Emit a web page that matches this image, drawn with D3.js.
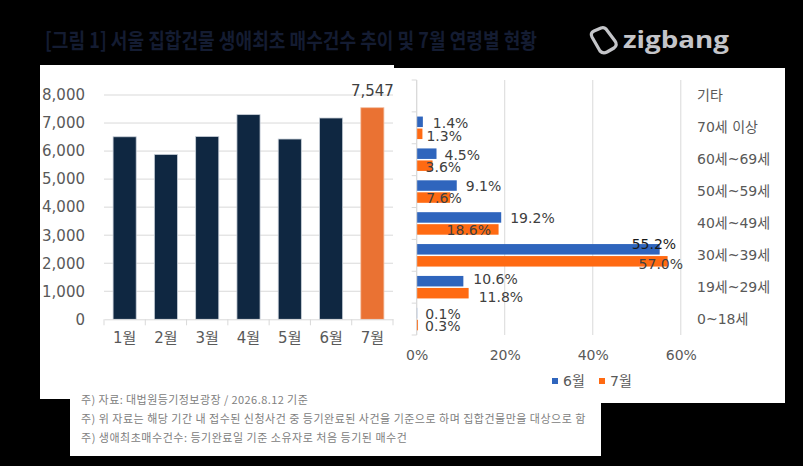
<!DOCTYPE html>
<html><head><meta charset="utf-8">
<script src="https://cdn.jsdelivr.net/npm/d3@7"></script>
<style>
html,body{margin:0;padding:0;background:#000;}
svg{display:block;}
</style></head>
<body>
<svg id="c" width="803" height="466"></svg>
<script>
// ---------- data ----------
const months = ["1월","2월","3월","4월","5월","6월","7월"];
const monthlyCounts = [6510, 5880, 6520, 7300, 6430, 7180, 7547];
const yTicksLeft = [0,1000,2000,3000,4000,5000,6000,7000,8000];

const ageGroups = ["기타","70세 이상","60세~69세","50세~59세","40세~49세","30세~39세","19세~29세","0~18세"];
const seriesNames = ["6월","7월"];
const juneShare = [null, 1.4, 4.5, 9.1, 19.2, 55.2, 10.6, 0.1];
const julyShare = [null, 1.3, 3.6, 7.6, 18.6, 57.0, 11.8, 0.3];
const xTicksRight = [0,20,40,60];

const titleText = "[그림 1] 서울 집합건물 생애최초 매수건수 추이 및 7월 연령별 현황";
const notes = [
  "주) 자료: 대법원등기정보광장 / 2026.8.12 기준",
  "주) 위 자료는 해당 기간 내 접수된 신청사건 중 등기완료된 사건을 기준으로 하며 집합건물만을 대상으로 함",
  "주) 생애최초매수건수: 등기완료일 기준 소유자로 처음 등기된 매수건"
];

// label nudges (pixels) for the right chart data labels
const nudgeX6 = [0, 2, 0, 1, 1, -36, 2, 0];
const nudgeY6 = [0, 0, 0, 0, 0, -6, -3, 0];
const nudgeX7 = [0, -4, -15, -32, -60, -37, 2, -1];
const nudgeY7 = [0, 1, 0, 0, 0, 2, 3, 0];

// ---------- drawing ----------
const svg = d3.select("#c");
const FONT = "'DejaVu Sans','Noto Sans CJK KR',sans-serif";
const CJK = "'Noto Sans CJK KR','Noto Sans',sans-serif";
const GRID = "#d9d9d9", TXT = "#595959";

svg.append("rect").attr("width",803).attr("height",466).attr("fill","#000");
// white panels
svg.append("rect").attr("x",40).attr("y",65).attr("width",354).attr("height",334).attr("fill","#fff");
svg.append("rect").attr("x",394).attr("y",68).attr("width",391).attr("height",335).attr("fill","#fff");
svg.append("rect").attr("x",70).attr("y",390).attr("width",531).attr("height",66).attr("fill","#fff");

// title
svg.append("text").attr("x",45).attr("y",48).text(titleText)
  .attr("font-family",CJK).attr("font-weight",700).attr("font-size",21)
  .attr("fill","#141c32").attr("textLength",492).attr("lengthAdjust","spacingAndGlyphs");

// logo
const logo = svg.append("g");
logo.append("path")
  .attr("d","M592,37 Q590,33 594,31 L601,28 Q604,27 606,29 L615,41 Q618,45 614,48 L607,52 Q603,54 600,51 Z")
  .attr("fill","none").attr("stroke","#c4c5c9").attr("stroke-width",3.2).attr("stroke-linejoin","round");
logo.append("text").attr("x",623).attr("y",48).text("zigbang")
  .attr("font-family","'Open Sans','DejaVu Sans',sans-serif").attr("font-weight",700).attr("font-size",24)
  .attr("fill","#c4c5c9").attr("textLength",106).attr("lengthAdjust","spacingAndGlyphs");

// ---------- left chart ----------
const xL = d3.scaleBand().domain(months).range([104,393]).paddingInner(0.44).paddingOuter(0.22);
const yL = d3.scaleLinear().domain([0,8000]).range([319.3,95]);
const gL = svg.append("g");

gL.selectAll("line.grid").data(yTicksLeft.filter(d=>d>0)).join("line")
  .attr("x1",104).attr("x2",393).attr("y1",d=>yL(d)).attr("y2",d=>yL(d))
  .attr("stroke",GRID).attr("stroke-width",1);

const axL = d3.axisLeft(yL).tickValues(yTicksLeft).tickSize(0).tickPadding(0).tickFormat(d3.format(","));
const gyL = gL.append("g").attr("transform","translate(85,0)").call(axL);
gyL.select(".domain").remove();
gyL.selectAll("text").attr("font-family",FONT).attr("font-size",15).attr("fill",TXT);

gL.selectAll("rect.bar").data(monthlyCounts).join("rect")
  .attr("x",(d,i)=>xL(months[i])).attr("width",xL.bandwidth())
  .attr("y",d=>yL(d)).attr("height",d=>yL(0)-yL(d))
  .attr("fill",(d,i)=>i===months.length-1?"#ea7233":"#0f2741")
  .attr("stroke",(d,i)=>i===months.length-1?"#f3c0a3":"#c9d0d9").attr("stroke-width",0.8);

// x axis
const axXL = d3.axisBottom(xL).tickSize(0).tickPadding(0);
const gxL = gL.append("g").attr("transform",`translate(0,${yL(0)})`).call(axXL);
gxL.select(".domain").attr("stroke",GRID);
gxL.selectAll("text").attr("font-family",FONT).attr("font-size",15).attr("fill",TXT).attr("dy","1.55em");
const bounds = months.map(m=>xL(m)-xL.step()*xL.paddingInner()/2).concat([393]);
bounds[0]=104;
gL.selectAll("line.tk").data(bounds).join("line")
  .attr("x1",d=>d).attr("x2",d=>d).attr("y1",yL(0)).attr("y2",yL(0)+6).attr("stroke",GRID);

// value label on last bar
const lastI = months.length-1;
gL.append("text").attr("x",xL(months[lastI])+xL.bandwidth()/2).attr("y",yL(monthlyCounts[lastI])-12)
  .attr("text-anchor","middle").text(d3.format(",")(monthlyCounts[lastI]))
  .attr("font-family",FONT).attr("font-size",15).attr("fill","#404040");

// ---------- right chart ----------
const xR = d3.scaleLinear().domain([0,60]).range([416.7,680.8]);
const yR = d3.scaleBand().domain(ageGroups).range([80,335]);
const yS = d3.scaleBand().domain(seriesNames).range([0,yR.bandwidth()]).paddingInner(0.125).paddingOuter(0.39);
const gR = svg.append("g");

gR.selectAll("line.vg").data(xTicksRight).join("line")
  .attr("x1",d=>xR(d)).attr("x2",d=>xR(d)).attr("y1",80).attr("y2",335)
  .attr("stroke",GRID).attr("stroke-width",1);
// category tick marks
gR.selectAll("line.ct").data(ageGroups.map(a=>yR(a)).concat([335])).join("line")
  .attr("x1",xR(0)-5).attr("x2",xR(0)).attr("y1",d=>d).attr("y2",d=>d).attr("stroke",GRID);

const axXR = d3.axisBottom(xR).tickValues(xTicksRight).tickSize(0).tickPadding(0).tickFormat(d=>d+"%");
const gxR = gR.append("g").attr("transform","translate(0,335)").call(axXR);
gxR.select(".domain").remove();
gxR.selectAll("text").attr("font-family",FONT).attr("font-size",14).attr("fill",TXT).attr("dy","1.75em");

// category labels on right
const axYR = d3.axisRight(yR).tickSize(0).tickPadding(0);
const gyR = gR.append("g").attr("transform","translate(697,0)").call(axYR);
gyR.select(".domain").remove();
gyR.selectAll("text").attr("font-family",FONT).attr("font-size",14).attr("fill",TXT);

const series = [
  {name:"6월", vals:juneShare, color:"#2f65bd", nx:nudgeX6, ny:nudgeY6},
  {name:"7월", vals:julyShare, color:"#ff6a12", nx:nudgeX7, ny:nudgeY7}
];
series.forEach(s=>{
  const pts = s.vals.map((v,i)=>({v,i,cat:ageGroups[i]})).filter(d=>d.v!==null);
  gR.selectAll(null).data(pts).join("rect")
    .attr("x",xR(0)).attr("width",d=>xR(d.v)-xR(0))
    .attr("y",d=>yR(d.cat)+yS(s.name)).attr("height",yS.bandwidth())
    .attr("fill",s.color);
  gR.selectAll(null).data(pts).join("text")
    .attr("x",d=>xR(d.v)+8+s.nx[d.i])
    .attr("y",d=>yR(d.cat)+yS(s.name)+yS.bandwidth()/2+1+s.ny[d.i])
    .attr("dy","0.35em").text(d=>d.v.toFixed(1)+"%")
    .attr("font-family",FONT).attr("font-size",14)
    .attr("fill",d=>d.v>50&&s.name==="6월"?"#1a1a1a":"#404040");
});
// axis line at 0%
gR.append("line").attr("x1",xR(0)).attr("x2",xR(0)).attr("y1",80).attr("y2",335).attr("stroke",GRID);

// legend
const legX = [552, 599];
series.forEach((s,k)=>{
  gR.append("rect").attr("x",legX[k]).attr("y",378).attr("width",6).attr("height",6).attr("fill",s.color);
  gR.append("text").attr("x",legX[k]+11).attr("y",381).attr("dy","0.35em").text(s.name)
    .attr("font-family",FONT).attr("font-size",14).attr("fill",TXT);
});

// notes
const noteSel = svg.selectAll("text.note").data(notes).join("text")
  .attr("x",81).attr("y",(d,i)=>404+i*19)
  .text(d=>d).attr("font-family",CJK).attr("font-size",11).attr("fill","#808080");
noteSel.each(function(){
  const len = this.getComputedTextLength();
  d3.select(this).attr("textLength",len*1.06).attr("lengthAdjust","spacing");
});
</script>
</body></html>
